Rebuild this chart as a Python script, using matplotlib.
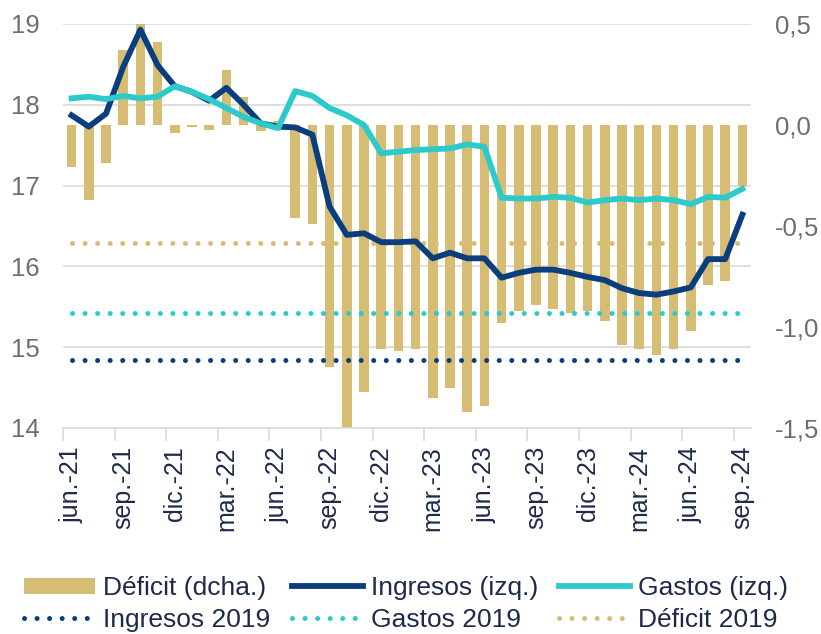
import numpy as np
import matplotlib
matplotlib.use('Agg')
import matplotlib.pyplot as plt
from matplotlib.patches import Patch
from matplotlib.lines import Line2D

plt.rcParams['font.family'] = ['Liberation Sans', 'DejaVu Sans']

# 数据（jun.-21 至 sep.-24，月度）
ingresos = [17.87, 17.73, 17.89, 18.47, 18.93, 18.49, 18.23, 18.16, 18.05, 18.21,
            18.00, 17.77, 17.73, 17.72, 17.63, 16.74, 16.39, 16.41, 16.30, 16.30,
            16.31, 16.10, 16.17, 16.10, 16.10, 15.86, 15.92, 15.96, 15.96, 15.92,
            15.87, 15.83, 15.73, 15.67, 15.65, 15.69, 15.74, 16.09, 16.09, 16.64]
gastos = [18.08, 18.10, 18.07, 18.11, 18.08, 18.10, 18.23, 18.16, 18.07, 17.96,
          17.85, 17.77, 17.71, 18.17, 18.11, 17.96, 17.87, 17.75, 17.40, 17.42,
          17.44, 17.45, 17.46, 17.51, 17.48, 16.85, 16.84, 16.84, 16.86, 16.85,
          16.79, 16.82, 16.84, 16.82, 16.84, 16.82, 16.77, 16.86, 16.85, 16.96]
deficit = [-0.21, -0.37, -0.19, 0.37, 0.50, 0.41, -0.04, -0.01, -0.025, 0.27,
           0.14, -0.03, 0.02, -0.46, -0.49, -1.20, -1.50, -1.32, -1.11, -1.12,
           -1.11, -1.35, -1.30, -1.42, -1.39, -0.98, -0.92, -0.89, -0.91, -0.93,
           -0.92, -0.97, -1.09, -1.11, -1.14, -1.11, -1.02, -0.79, -0.77, -0.30]
ingresos_2019 = 14.84
gastos_2019 = 15.42
deficit_2019 = -0.585
tick_labels = ['jun.-21', 'sep.-21', 'dic.-21', 'mar.-22', 'jun.-22', 'sep.-22',
               'dic.-22', 'mar.-23', 'jun.-23', 'sep.-23', 'dic.-23', 'mar.-24',
               'jun.-24', 'sep.-24']

# 颜色
c_bar = '#D7BD74'
c_ing = '#0A3E7D'
c_gas = '#2CCACB'
c_ytxt = '#6E6E6E'
c_txt = '#1C2B4A'
c_grid = '#D9D9D9'

n = len(ingresos)
x = np.arange(n)
lw_line = 4.2
lw_dot = 3.6
dot = (0, (0.01, 2.5))

fig = plt.figure(figsize=(8.21, 6.34), dpi=100)
ax = fig.add_axes([63 / 821, 1 - 428 / 634, (751 - 63) / 821, (428 - 24) / 634])
ax2 = ax.twinx()

# 左轴在上层（折线），右轴在下层（柱）
ax.set_zorder(ax2.get_zorder() + 1)
ax.patch.set_visible(False)

ylim1 = (14, 19)
ylim2 = (-1.5, 0.5)

# 网格线（按左轴刻度换算到右轴，画在柱子下面）
for v in range(15, 20):
    r = ylim2[0] + (v - ylim1[0]) / (ylim1[1] - ylim1[0]) * (ylim2[1] - ylim2[0])
    ax2.axhline(r, color=c_grid, lw=1.2, zorder=0)

ax2.bar(x, deficit, width=0.55, color=c_bar, zorder=2)
ax2.plot(x, np.full(n, deficit_2019), color=c_bar, lw=lw_dot, linestyle=dot,
         dash_capstyle='round', zorder=3)

ax.plot(x, ingresos, color=c_ing, lw=lw_line, zorder=3)
ax.plot(x, gastos, color=c_gas, lw=lw_line, zorder=3)
ax.plot(x, np.full(n, ingresos_2019), color=c_ing, lw=lw_dot, linestyle=dot,
        dash_capstyle='round', zorder=3)
ax.plot(x, np.full(n, gastos_2019), color=c_gas, lw=lw_dot, linestyle=dot,
        dash_capstyle='round', zorder=3)

ax.set_xlim(-0.5, n - 0.5)
ax.set_ylim(*ylim1)
ax2.set_ylim(*ylim2)

ax.set_yticks(range(14, 20))
ax.set_yticklabels([str(v) for v in range(14, 20)])
ax2.set_yticks([0.5, 0.0, -0.5, -1.0, -1.5])
ax2.set_yticklabels(['0,5', '0,0', '-0,5', '-1,0', '-1,5'])

# x轴：刻度在类别边界，标签在类别中心
ax.set_xticks(np.arange(-0.5, n - 1, 3))
ax.set_xticklabels([])
ax.set_xticks(np.arange(0, n, 3), minor=True)
ax.set_xticklabels(tick_labels, minor=True, rotation=90)
ax.tick_params(axis='x', which='major', length=9, width=1.2, color=c_grid)
ax.tick_params(axis='x', which='minor', length=0, pad=13, labelsize=18,
               labelcolor=c_txt)

ax.tick_params(axis='y', length=0, pad=17, labelsize=18.5, labelcolor=c_ytxt)
ax2.tick_params(axis='y', length=0, pad=17, labelsize=18.5, labelcolor=c_ytxt)

for a in (ax, ax2):
    for s in ('top', 'left', 'right', 'bottom'):
        a.spines[s].set_visible(False)
ax.spines['bottom'].set_visible(True)
ax.spines['bottom'].set_color(c_grid)
ax.spines['bottom'].set_linewidth(1.2)

# 图例
h_def = Patch(facecolor=c_bar, edgecolor='none')
h_ing = Line2D([], [], color=c_ing, lw=lw_line)
h_gas = Line2D([], [], color=c_gas, lw=lw_line)
h_ing19 = Line2D([], [], color=c_ing, lw=lw_dot, linestyle=dot, dash_capstyle='round')
h_gas19 = Line2D([], [], color=c_gas, lw=lw_dot, linestyle=dot, dash_capstyle='round')
h_def19 = Line2D([], [], color=c_bar, lw=lw_dot, linestyle=dot, dash_capstyle='round')

handles = [h_def, h_ing19, h_ing, h_gas19, h_gas, h_def19]
labels = ['Déficit (dcha.)', 'Ingresos 2019', 'Ingresos (izq.)', 'Gastos 2019',
          'Gastos (izq.)', 'Déficit 2019']
leg = fig.legend(handles, labels, ncol=3, loc='upper left',
                 bbox_to_anchor=(24 / 821, 1 - 576 / 634), frameon=False,
                 fontsize=19, handlelength=2.7, handleheight=0.55,
                 handletextpad=0.3, columnspacing=0.8, labelspacing=0.3,
                 borderpad=0, borderaxespad=0)
for t in leg.get_texts():
    t.set_color(c_txt)

plt.savefig('out.png', dpi=100)
